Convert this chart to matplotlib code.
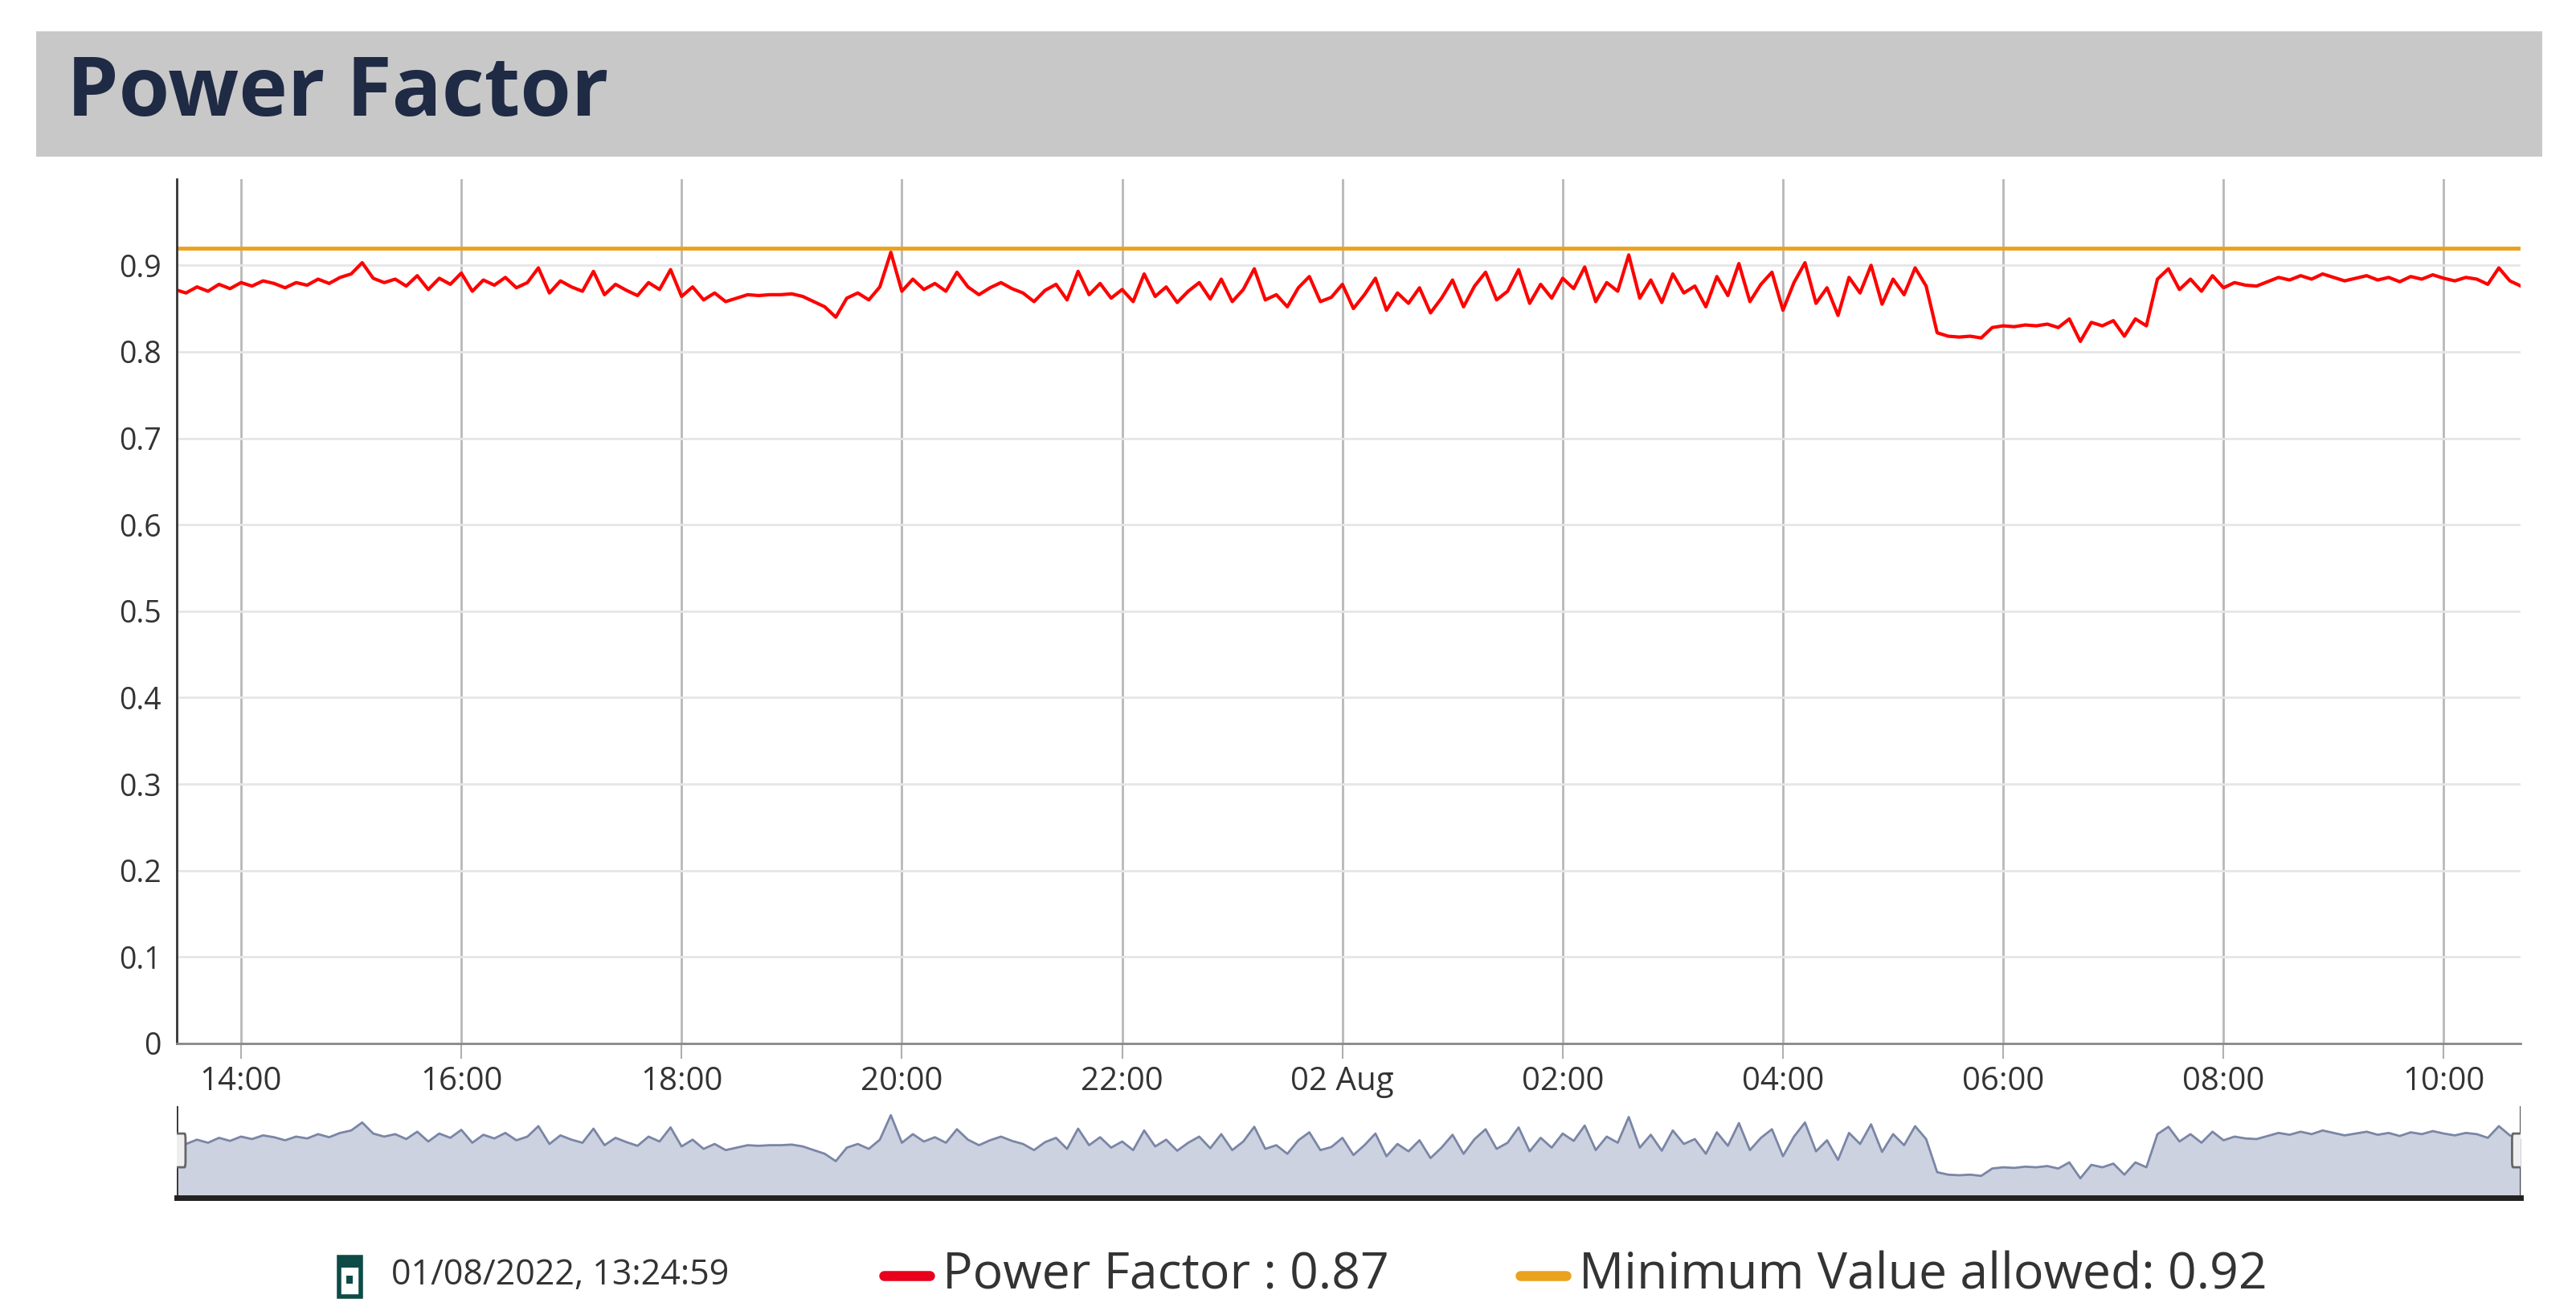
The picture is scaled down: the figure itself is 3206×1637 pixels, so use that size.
import matplotlib.pyplot as plt
import numpy as np
from matplotlib.patches import Rectangle, FancyBboxPatch
from matplotlib.lines import Line2D

plt.rcParams["font.family"] = ["Open Sans", "DejaVu Sans"]

# hours since 01 Aug 00:00, one sample every 6 minutes from 13:24
start_hour = 13.4
step = 0.1
power_factor = [
    0.872, 0.868, 0.875, 0.870, 0.878, 0.873, 0.880, 0.876, 0.882, 0.879,
    0.874, 0.880, 0.877, 0.884, 0.879, 0.886, 0.890, 0.903, 0.885, 0.880,
    0.884, 0.876, 0.888, 0.872, 0.885, 0.878, 0.891, 0.870, 0.883, 0.877,
    0.886, 0.874, 0.880, 0.897, 0.868, 0.882, 0.875, 0.870, 0.893, 0.866,
    0.878, 0.871, 0.865, 0.880, 0.872, 0.895, 0.864, 0.875, 0.860, 0.868,
    0.858, 0.862, 0.866, 0.865, 0.866, 0.866, 0.867, 0.864, 0.858, 0.852,
    0.840, 0.862, 0.868, 0.860, 0.875, 0.915, 0.870, 0.884, 0.872, 0.879,
    0.870, 0.892, 0.875, 0.866, 0.874, 0.880, 0.873, 0.868, 0.858, 0.871,
    0.878, 0.860, 0.893, 0.866, 0.879, 0.862, 0.872, 0.858, 0.890, 0.864,
    0.875, 0.857, 0.870, 0.880, 0.861, 0.884, 0.858, 0.872, 0.896, 0.860,
    0.866, 0.852, 0.874, 0.887, 0.858, 0.863, 0.878, 0.850, 0.866, 0.885,
    0.848, 0.868, 0.856, 0.874, 0.845, 0.862, 0.883, 0.852, 0.876, 0.892,
    0.860, 0.870, 0.895, 0.856, 0.878, 0.862, 0.885, 0.873, 0.898, 0.858,
    0.880, 0.870, 0.912, 0.862, 0.883, 0.857, 0.890, 0.868, 0.876, 0.852,
    0.887, 0.865, 0.902, 0.858, 0.878, 0.892, 0.848, 0.880, 0.903, 0.856,
    0.874, 0.842, 0.886, 0.868, 0.900, 0.855, 0.884, 0.866, 0.897, 0.876,
    0.822, 0.818, 0.817, 0.818, 0.816, 0.828, 0.830, 0.829, 0.831, 0.830,
    0.832, 0.828, 0.838, 0.812, 0.834, 0.830, 0.836, 0.818, 0.838, 0.830,
    0.884, 0.896, 0.872, 0.884, 0.870, 0.888, 0.874, 0.880, 0.877, 0.876,
    0.881, 0.886, 0.883, 0.888, 0.884, 0.890, 0.886, 0.882, 0.885, 0.888,
    0.883, 0.886, 0.881, 0.887, 0.884, 0.889, 0.885, 0.882, 0.886, 0.884,
    0.878, 0.897, 0.882, 0.876,
]
min_allowed = 0.92
tick_hours = [14, 16, 18, 20, 22, 24, 26, 28, 30, 32, 34]
tick_labels = ["14:00", "16:00", "18:00", "20:00", "22:00", "02 Aug",
               "02:00", "04:00", "06:00", "08:00", "10:00"]
y_ticks = [0, 0.1, 0.2, 0.3, 0.4, 0.5, 0.6, 0.7, 0.8, 0.9]

hours = start_hour + step * np.arange(len(power_factor))
x_min, x_max = 13.416, 34.70

fig = plt.figure(figsize=(32.06, 16.37), dpi=100)

# title band
fig.patches.append(Rectangle((0.014, 0.881), 0.973, 0.095, transform=fig.transFigure,
                             facecolor="#c8c8c8", edgecolor="none"))
fig.text(0.026, 0.928, "Power Factor", fontsize=74, fontweight="bold",
         color="#1f2a44", va="center")

ax = fig.add_axes([0.0686, 0.2065, 0.9100, 0.6575])
ax.plot(hours, power_factor, color="#ff0000", linewidth=3)
ax.axhline(min_allowed, color="#eba21c", linewidth=3.5)
ax.set_xlim(x_min, x_max)
ax.set_ylim(0, 1.0)
ax.set_yticks(y_ticks)
ax.set_yticklabels(["0"] + [f"{v:.1f}" for v in y_ticks[1:]])
ax.set_xticks(tick_hours)
ax.set_xticklabels(tick_labels)
ax.tick_params(axis="y", length=0, labelsize=27, labelcolor="#333333", pad=14)
ax.tick_params(axis="x", length=14, width=1.5, color="#b0b0b0",
               labelsize=29, labelcolor="#333333", pad=6)
ax.grid(axis="y", color="#e6e6e6", linewidth=2)
ax.grid(axis="x", color="#b8b8b8", linewidth=2)
for s in ["top", "right"]:
    ax.spines[s].set_visible(False)
ax.spines["left"].set_color("#333333")
ax.spines["left"].set_linewidth(2)
ax.spines["bottom"].set_color("#888888")
ax.spines["bottom"].set_linewidth(2)

# navigator
nav = fig.add_axes([0.0686, 0.089, 0.9100, 0.070])
nav.fill_between(hours, power_factor, 0.78, color="#c8cedd", alpha=0.9)
nav.plot(hours, power_factor, color="#7a86a6", linewidth=2)
nav.set_xlim(x_min, x_max)
nav.set_ylim(0.78, 0.93)
nav.set_xticks([])
nav.set_yticks([])
for s in ["top", "right", "left"]:
    nav.spines[s].set_visible(False)
nav.spines["bottom"].set_color("#222222")
nav.spines["bottom"].set_linewidth(5)
for xh in (x_min, x_max):
    nav.axvline(xh, color="#333333", linewidth=2)
    nav.add_patch(FancyBboxPatch((xh - 0.07, 0.84), 0.14, 0.035,
                                 boxstyle="round,pad=0.01", facecolor="#eeeeee",
                                 edgecolor="#666666", linewidth=2, zorder=5))

# legend row
ly = 0.030
fig.patches.append(Rectangle((0.1315, ly - 0.016), 0.0085, 0.03, transform=fig.transFigure,
                             facecolor="white", edgecolor="#0d4b47", linewidth=4))
fig.patches.append(Rectangle((0.1315, ly + 0.006), 0.0085, 0.008, transform=fig.transFigure,
                             facecolor="#0d4b47", edgecolor="none"))
fig.patches.append(Rectangle((0.1345, ly - 0.006), 0.0025, 0.006, transform=fig.transFigure,
                             facecolor="#0d4b47", edgecolor="none"))
fig.text(0.152, ly, "01/08/2022, 13:24:59", fontsize=31, color="#333333", va="center")
fig.lines.append(Line2D([0.343, 0.361], [ly, ly], transform=fig.transFigure,
                        color="#e8001c", linewidth=9, solid_capstyle="round"))
fig.text(0.366, ly, "Power Factor : 0.87", fontsize=45, color="#333333", va="center")
fig.lines.append(Line2D([0.590, 0.608], [ly, ly], transform=fig.transFigure,
                        color="#eba21c", linewidth=9, solid_capstyle="round"))
fig.text(0.613, ly, "Minimum Value allowed: 0.92", fontsize=45, color="#333333", va="center")

plt.savefig("out.png", dpi=100)
